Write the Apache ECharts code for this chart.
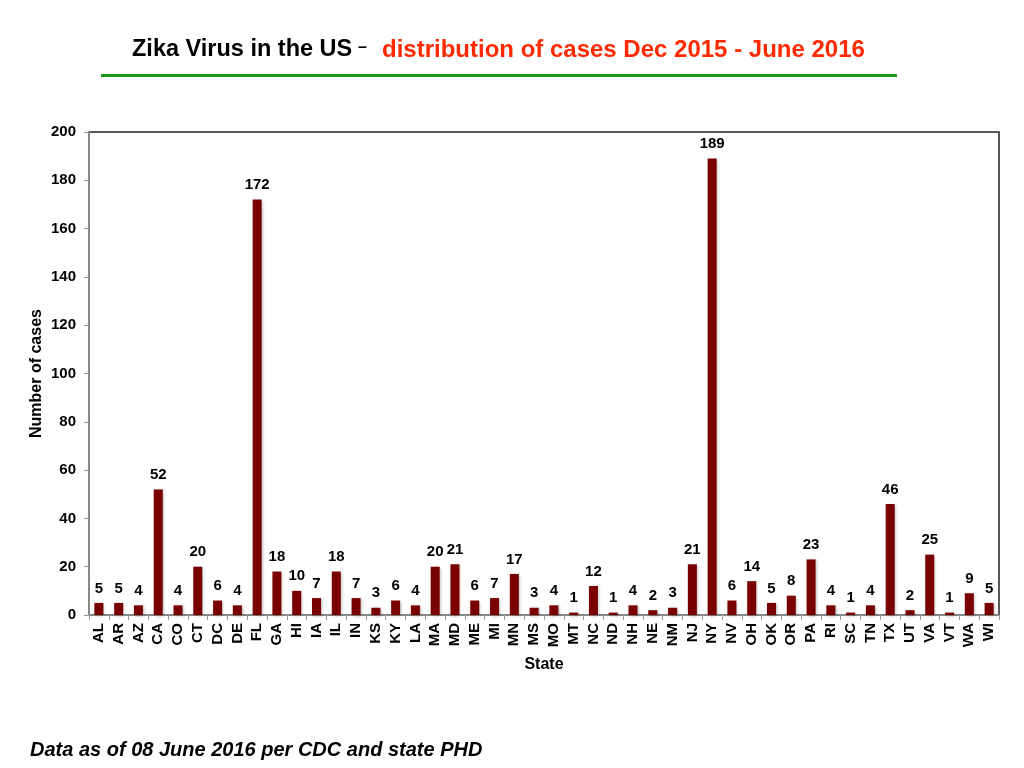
<!DOCTYPE html>
<html><head><meta charset="utf-8">
<script src="https://cdn.jsdelivr.net/npm/echarts@6/dist/echarts.min.js"></script>
<style>html,body{margin:0;padding:0;background:#fff}#c{width:1024px;height:768px}</style>
</head><body><div id="c"></div>
<script>
const states = ["AL","AR","AZ","CA","CO","CT","DC","DE","FL","GA","HI","IA","IL","IN","KS","KY","LA","MA","MD","ME","MI","MN","MS","MO","MT","NC","ND","NH","NE","NM","NJ","NY","NV","OH","OK","OR","PA","RI","SC","TN","TX","UT","VA","VT","WA","WI"];
const cases = [5,5,4,52,4,20,6,4,172,18,10,7,18,7,3,6,4,20,21,6,7,17,3,4,1,12,1,4,2,3,21,189,6,14,5,8,23,4,1,4,46,2,25,1,9,5];
const yTicks = [0,20,40,60,80,100,120,140,160,180,200];

const chart = echarts.init(document.getElementById('c'));
const F = 'Liberation Sans, Arial, Helvetica, sans-serif';
chart.setOption({
  animation: false,
  textStyle: {fontFamily: F},
  graphic: [
    {type:'text', left:132, top:38, style:{text:'Zika Virus in the US', font:'bold 23.5px '+F, fill:'#000'}},
    {type:'text', left:358, top:40, style:{text:'–', font:'bold 16px '+F, fill:'#000'}},
    {type:'text', left:382, top:38, style:{text:'distribution of cases Dec 2015 - June 2016', font:'bold 24px '+F, fill:'#ff2a00'}},
    {type:'rect', shape:{x:101, y:74, width:796, height:3}, style:{fill:'#1a9a1a'}},
    {type:'text', left:30, top:740, style:{text:'Data as of 08 June 2016 per CDC and state PHD', font:'italic bold 20px '+F, fill:'#000'}}
  ],
  grid: {left:89, right:25, top:132, bottom:153, show:true, borderColor:'#222', borderWidth:1.5},
  xAxis: {
    type:'category', data: states,
    name:'State', nameLocation:'middle', nameGap:42, nameMoveOverlap:false,
    nameTextStyle:{fontWeight:'bold', fontSize:16, color:'#000'},
    axisLine:{lineStyle:{color:'#999', width:1.5}},
    axisTick:{show:true, alignWithLabel:false, length:5, lineStyle:{color:'#999'}},
    axisLabel:{rotate:90, fontWeight:'bold', fontSize:15, color:'#000', interval:0, margin:8}
  },
  yAxis: {
    type:'value', min:yTicks[0], max:yTicks[yTicks.length-1], interval:20,
    name:'Number of cases', nameLocation:'middle', nameGap:44, nameMoveOverlap:false,
    nameTextStyle:{fontWeight:'bold', fontSize:16, color:'#000'},
    axisLine:{show:true, lineStyle:{color:'#999', width:1.5}},
    axisTick:{show:true, length:5, lineStyle:{color:'#999'}},
    splitLine:{show:false},
    axisLabel:{fontWeight:'bold', fontSize:15, color:'#000', margin:13}
  },
  series: [{
    type:'bar', data: cases, barWidth:9,
    itemStyle:{color:'#7a0000', shadowColor:'rgba(0,0,0,0.3)', shadowBlur:3, shadowOffsetX:1, shadowOffsetY:1},
    label:{show:true, position:'top', distance:7, fontWeight:'bold', fontSize:15, color:'#000'}
  }]
});
</script></body></html>
